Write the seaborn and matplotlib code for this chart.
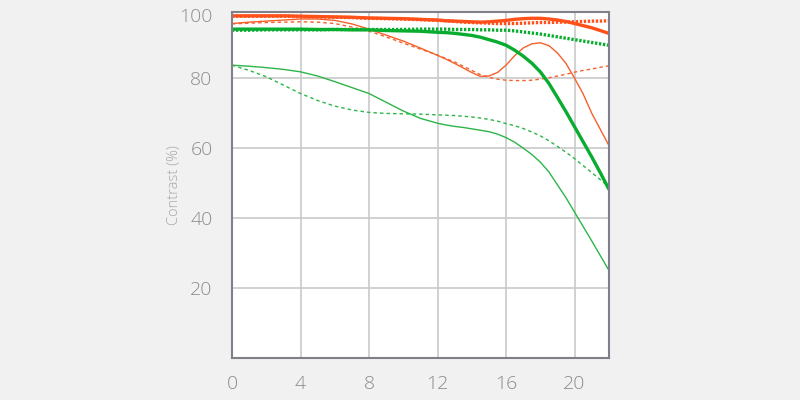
import numpy as np
import pandas as pd
import matplotlib
matplotlib.use("Agg")
import matplotlib.pyplot as plt
import seaborn as sns

# distance from image centre (mm)
dist = [0, 1, 2, 3, 4, 5, 6, 7, 8, 9, 10, 11, 12,
        12.5, 13, 13.5, 14, 14.5, 15, 15.5, 16, 16.5, 17,
        17.5, 18, 18.5, 19, 19.5, 20, 20.5, 21, 21.5, 22]

# contrast values (%)
red_thick_solid = [97.8, 97.8, 97.8, 97.8, 97.7, 97.6, 97.5, 97.4, 97.2, 97.1, 97.0, 96.8, 96.6,
                   96.4, 96.3, 96.2, 96.1, 96.0, 96.1, 96.3, 96.5, 96.8, 97.0,
                   97.1, 97.1, 96.9, 96.6, 96.2, 95.6, 95.0, 94.4, 93.6, 92.8]
red_thick_dot = [97.7, 97.7, 97.7, 97.7, 97.6, 97.5, 97.4, 97.3, 97.1, 97.0, 96.9, 96.7, 96.5,
                 96.4, 96.2, 96.0, 95.9, 95.8, 95.7, 95.6, 95.6, 95.6, 95.7,
                 95.8, 95.9, 95.9, 96.0, 96.0, 96.1, 96.2, 96.3, 96.3, 96.4]
red_thin_solid = [95.6, 96.0, 96.3, 96.6, 96.9, 96.9, 96.5, 95.5, 94.0, 92.3, 90.6, 88.6, 86.5,
                  85.4, 84.2, 82.9, 81.6, 80.5, 80.6, 81.6, 83.7, 86.4, 88.6,
                  89.8, 90.1, 89.3, 87.2, 84.2, 80.0, 75.5, 70.0, 65.4, 60.8]
red_thin_dot = [95.5, 95.7, 95.9, 96.0, 96.1, 96.0, 95.6, 94.6, 93.4, 91.8, 90.0, 88.3, 86.6,
                85.6, 84.6, 83.4, 82.2, 81.0, 80.2, 79.7, 79.4, 79.3, 79.3,
                79.4, 79.7, 80.1, 80.6, 81.1, 81.7, 82.2, 82.6, 83.1, 83.5]
green_thick_solid = [94.0, 94.0, 94.0, 94.0, 94.0, 93.9, 93.9, 93.8, 93.8, 93.6, 93.5, 93.4, 93.1,
                     93.0, 92.8, 92.5, 92.2, 91.7, 91.0, 90.3, 89.4, 88.0, 86.3,
                     84.3, 81.8, 78.5, 74.5, 70.4, 66.1, 61.8, 57.5, 53.0, 48.3]
green_thick_dot = [93.7, 93.7, 93.8, 93.8, 93.8, 93.8, 93.9, 93.9, 93.9, 93.9, 93.9, 94.0, 94.0,
                   94.0, 93.9, 93.9, 93.9, 93.8, 93.8, 93.7, 93.7, 93.5, 93.2,
                   92.9, 92.6, 92.2, 91.8, 91.4, 91.0, 90.6, 90.2, 89.8, 89.4]
green_thin_solid = [83.7, 83.4, 83.0, 82.5, 81.8, 80.6, 79.0, 77.3, 75.6, 73.1, 70.6, 68.5, 67.1,
                    66.6, 66.2, 65.9, 65.5, 65.1, 64.7, 64.0, 63.0, 61.7, 60.0,
                    58.2, 56.0, 53.2, 49.5, 45.8, 41.7, 37.6, 33.5, 29.3, 25.1]
green_thin_dot = [83.7, 82.2, 80.4, 78.0, 75.6, 73.6, 72.0, 70.9, 70.2, 69.9, 69.8, 69.7, 69.5,
                  69.4, 69.3, 69.1, 68.9, 68.6, 68.2, 67.7, 67.0, 66.4, 65.6,
                  64.6, 63.5, 62.1, 60.5, 58.8, 57.0, 55.0, 53.0, 51.0, 48.9]

xticks = [0, 4, 8, 12, 16, 20]
yticks = [20, 40, 60, 80]

sns.set_style("white")
plt.rcParams['font.family'] = ['Open Sans', 'DejaVu Sans']

fig = plt.figure(figsize=(8, 4), dpi=100, facecolor='#f1f1f1')
ax = fig.add_axes([0.29, 0.105, 0.471, 0.865])
ax.set_facecolor('white')

RED = '#ff5019'
RED_T = '#f5612c'
GRN = '#08ad30'
GRN_T = '#2cb548'

series = [
    (green_thin_dot, GRN_T, 1.0, (0, (2.5, 2.2))),
    (green_thin_solid, GRN_T, 1.0, '-'),
    (red_thin_dot, RED_T, 1.0, (0, (2.5, 2.2))),
    (red_thin_solid, RED_T, 1.0, '-'),
    (green_thick_dot, GRN, 2.4, (0, (0.7, 0.5))),
    (green_thick_solid, GRN, 2.4, '-'),
    (red_thick_dot, RED, 2.4, (0, (0.7, 0.5))),
    (red_thick_solid, RED, 2.4, '-'),
]
for vals, col, lw, ls in series:
    sns.lineplot(x=dist, y=vals, ax=ax, color=col, linewidth=lw, linestyle=ls)

ax.set_xlim(0, 22)
ax.set_ylim(0, 98.9)
ax.set_xticks(xticks)
ax.set_yticks(yticks)
ax.grid(True, color='#c9c9c9', linewidth=1.2)
ax.set_axisbelow(True)
for s in ax.spines.values():
    s.set_visible(True)
    s.set_color('#80808a')
    s.set_linewidth(1.5)

ax.tick_params(length=0, labelsize=14, labelcolor='#8c8c8c')
ax.tick_params(axis='x', pad=12)
ax.tick_params(axis='y', pad=14)
for lab in ax.get_xticklabels() + ax.get_yticklabels():
    lab.set_fontweight('light')

ax.annotate('100', xy=(0, 98.9), xycoords=('axes fraction', 'data'),
            xytext=(-14, 3), textcoords='offset points', ha='right', va='top',
            fontsize=14, color='#8c8c8c', fontweight='light')

ax.set_ylabel('Contrast (%)', fontsize=10.5, color='#a8a8a8', labelpad=6, fontweight='light')
ax.set_xlabel('')

fig.savefig('out.png', dpi=100, facecolor=fig.get_facecolor())
